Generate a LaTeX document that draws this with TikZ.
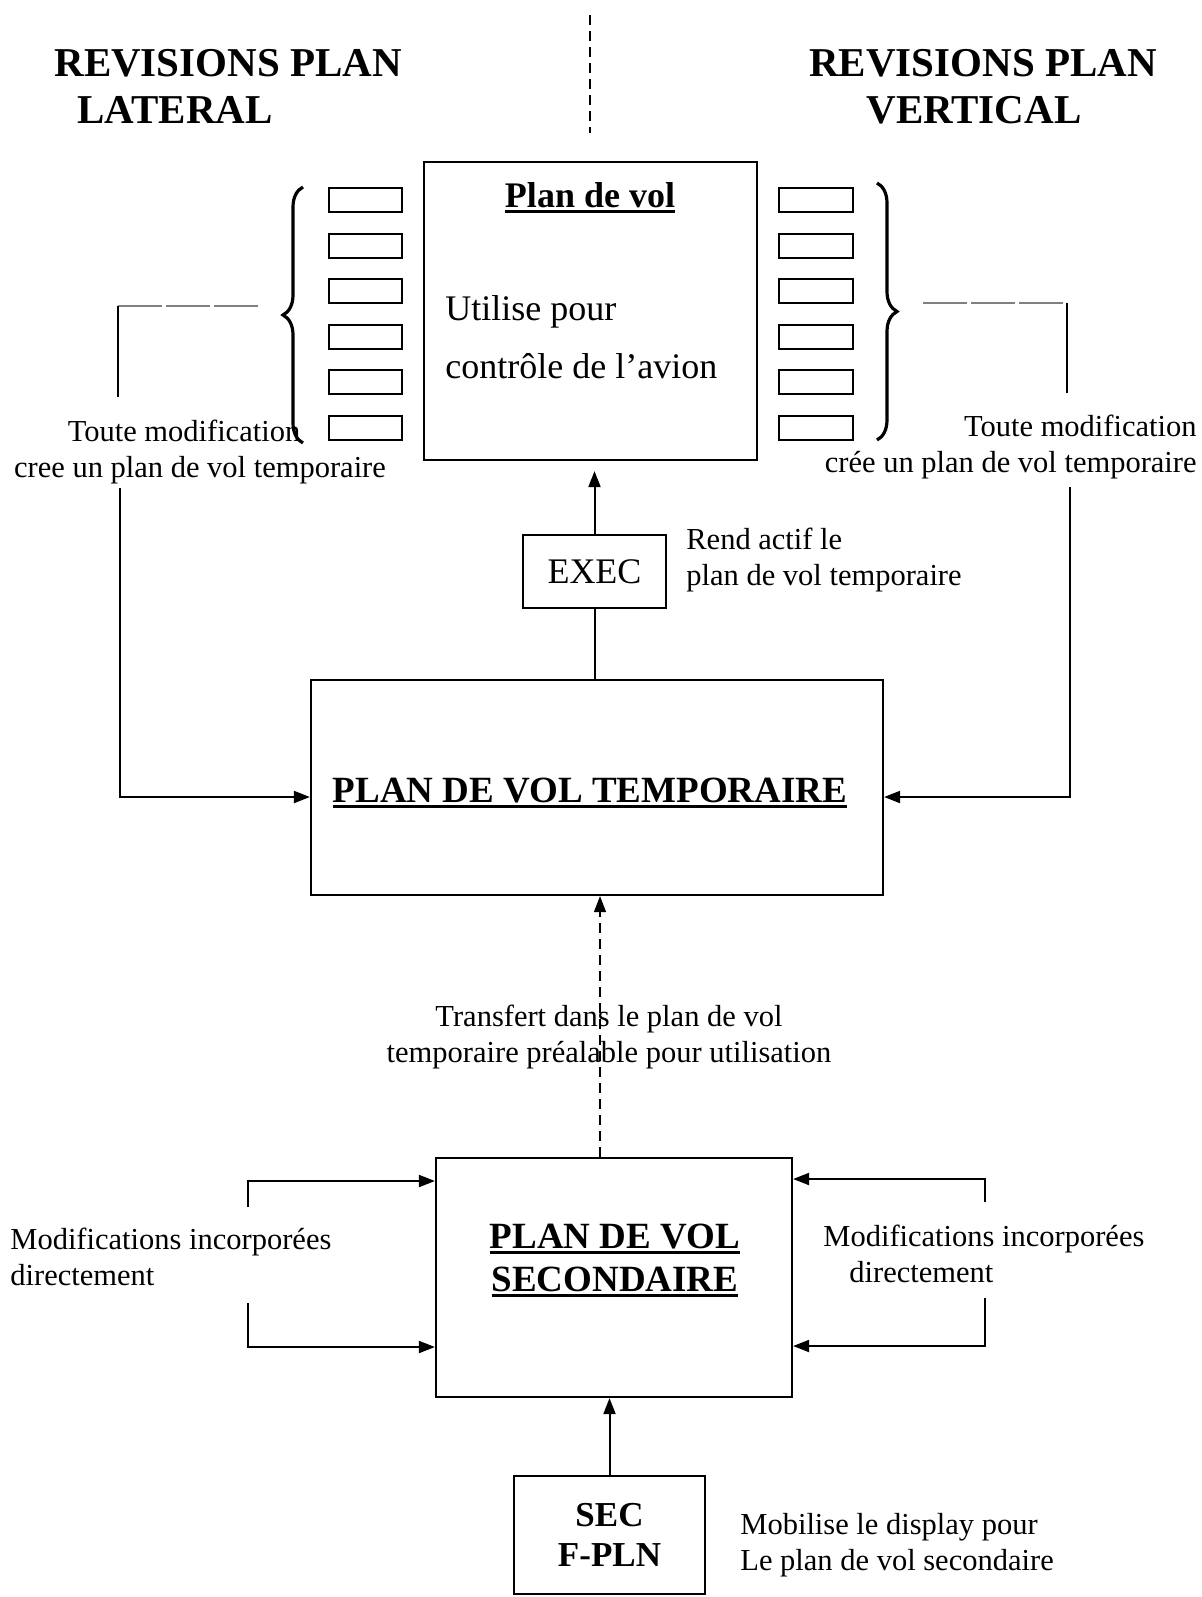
\documentclass[tikz,border=0pt]{standalone}
\usepackage{fontspec}
\setmainfont{Liberation Serif}
\usetikzlibrary{arrows.meta,decorations.pathreplacing}

% heavy underline drawn just below the baseline
\newsavebox\ulbox
\newcommand\heavyul[1]{\sbox\ulbox{#1}\rlap{\usebox\ulbox}\rule[-3pt]{\wd\ulbox}{1.3pt}}

\begin{document}
\begin{tikzpicture}[x=0.5pt,y=-0.5pt,
  box/.style={draw,line width=1.1pt,inner sep=0pt},
  slot/.style={draw,line width=1pt,minimum width=36.5pt,minimum height=12pt,inner sep=0pt},
  wire/.style={line width=1pt},
  tip/.style={-{Triangle[length=8pt,width=6pt]}},
  sep/.style={line width=0.7pt,dash pattern=on 5pt off 3pt},
  faint/.style={line width=0.8pt,gray,dash pattern=on 22pt off 2pt},
  curly/.style={line width=1.6pt,decorate,decoration={brace,amplitude=10pt}},
  head/.style={font=\fontsize{20.5}{25}\selectfont\bfseries,inner sep=0pt},
  title/.style={font=\fontsize{18.5}{21.5}\selectfont\bfseries,inner sep=0pt},
  body/.style={font=\fontsize{15.25}{18}\selectfont,inner sep=0pt},
  inbox/.style={font=\fontsize{18}{22}\selectfont,inner sep=0pt}
]
\useasboundingbox (0,0) rectangle (1202,1597);

% headings and the dashed divider between them
\node[head,anchor=base west] (latA) at (54,76) {REVISIONS PLAN};
\node[head,anchor=base west] (latB) at (77,123) {LATERAL};
\node[head,anchor=base] (verA) at (983,76) {REVISIONS PLAN};
\node[head,anchor=base] (verB) at (974,123) {VERTICAL};
\coordinate (divT) at (590,15);
\coordinate (divB) at (590,133);
\draw[sep] (divT) -- (divB);

% active flight plan
\node[box,minimum width=166.5pt,minimum height=149pt] (plan) at (590.5,311) {};
\node[title,font=\fontsize{18}{22}\selectfont\bfseries,anchor=base] (ptitle) at (590,207) {\heavyul{Plan de vol}};
\node[inbox,anchor=base west] (puse1) at (445,320) {Utilise pour};
\node[inbox,anchor=base west] (puse2) at (445,378) {contrôle de l’avion};

% revision slots
\foreach \k/\yy in {1/200,2/245.6,3/291.2,4/336.8,5/382.4,6/428}{
  \node[slot] (ls\k) at (365.5,\yy) {};
  \node[slot,minimum width=37pt] (rs\k) at (816,\yy) {};
}
\draw[curly] (303,443) -- (303,187);
\draw[curly] (877,183) -- (877,440);

% lateral revisions path
\coordinate (lbtip) at (258,306);
\coordinate (lcorner) at (118,306);
\coordinate (lv1) at (118,397);
\coordinate (lv2) at (120,488);
\coordinate (lcorner2) at (120,797);
\node[body,anchor=north,align=center] (lmod) at (200,420) {Toute modification\hspace*{16pt}\\cree un plan de vol temporaire};

% vertical revisions path
\coordinate (rbtip) at (923,303);
\coordinate (rcorner) at (1067,303);
\coordinate (rv1) at (1067,393);
\coordinate (rv2) at (1070,487);
\coordinate (rcorner2) at (1070,797);
\node[body,anchor=north east,align=right] (rmod) at (1197,415) {Toute modification\\crée un plan de vol temporaire};

% EXEC key
\node[box,minimum width=71.5pt,minimum height=36.5pt,inbox] (exec) at (594.5,571.5) {EXEC};
\node[body,anchor=north west,align=left] (execlbl) at (686,528) {Rend actif le\\plan de vol temporaire};

% temporary flight plan
\node[box,minimum width=286pt,minimum height=107.5pt] (temp) at (597,787.5) {};
\node[title,anchor=base] (temptxt) at (590,802) {\heavyul{PLAN DE VOL TEMPORAIRE}};

% transfer label
\node[body,anchor=north,align=center] (xfer) at (609,1005) {Transfert dans le plan de vol\\temporaire préalable pour utilisation};

% secondary flight plan
\node[box,minimum width=178pt,minimum height=119.5pt] (sec) at (614,1277.5) {};
\node[title,anchor=base] (secA) at (615,1248) {\heavyul{PLAN DE VOL}};
\node[title,anchor=base] (secB) at (615,1291) {\heavyul{SECONDAIRE}};

\node[body,anchor=north west,align=left] (lsec) at (10,1228) {Modifications incorporées\\directement};
\node[body,anchor=north west,align=left] (rsec) at (823,1225) {Modifications incorporées\\\hspace*{13pt}directement};

\coordinate (lsTopEnd) at (248,1207);
\coordinate (lsTop) at (248,1181);
\coordinate (lsBotStart) at (248,1303);
\coordinate (lsBot) at (248,1347);
\coordinate (rsTopEnd) at (985,1202);
\coordinate (rsTop) at (985,1179);
\coordinate (rsBotStart) at (985,1298);
\coordinate (rsBot) at (985,1346);

% SEC F-PLN key
\node[box,minimum width=95.5pt,minimum height=59pt,align=center,font=\fontsize{17.5}{20}\selectfont\bfseries] (fpln) at (609.5,1535) {SEC\\F-PLN};
\node[body,anchor=north west,align=left] (mobil) at (740,1513) {Mobilise le display pour\\Le plan de vol secondaire};

% connectors
\draw[wire,tip,shorten >=5pt] (exec.north) -- (exec.north |- plan.south);
\draw[wire] (exec.south |- temp.north) -- (exec.south);

\draw[faint] (lbtip) -- (lcorner);
\draw[wire] (lcorner) -- (lv1);
\draw[wire,tip] (lv2) -- (lcorner2) -- (lcorner2 -| temp.west);

\draw[faint] (rbtip) -- (rcorner);
\draw[wire] (rcorner) -- (rv1);
\draw[wire,tip] (rv2) -- (rcorner2) -- (rcorner2 -| temp.east);

\draw[sep,tip] ([xshift=-7pt]sec.north) -- ([xshift=-7pt]sec.north |- temp.south);

\draw[wire,tip] (lsTopEnd) -- (lsTop) -- (lsTop -| sec.west);
\draw[wire,tip] (lsBotStart) -- (lsBot) -- (lsBot -| sec.west);
\draw[wire,tip] (rsTopEnd) -- (rsTop) -- (rsTop -| sec.east);
\draw[wire,tip] (rsBotStart) -- (rsBot) -- (rsBot -| sec.east);

\draw[wire,tip] (fpln.north) -- (fpln.north |- sec.south);
\end{tikzpicture}
\end{document}
